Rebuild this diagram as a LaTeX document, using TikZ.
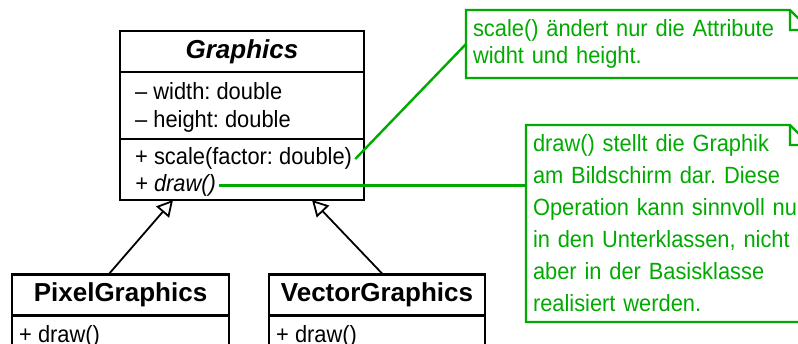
\documentclass[tikz,border=0pt]{standalone}
\usepackage{fontspec}
\setmainfont{Liberation Sans}[FakeStretch=0.93]
\newfontfamily\headfont{Liberation Sans}
\usetikzlibrary{positioning, arrows.meta}
\definecolor{notegreen}{RGB}{0,170,0}
\tikzstyle{classname} = [draw, line width=2.2pt, outer sep=0pt, minimum height=41pt, font=\headfont\fontsize{26}{30}\selectfont\bfseries]
\tikzstyle{compartment} = [draw, line width=2.2pt, outer sep=0pt]
\tikzstyle{member} = [anchor=base west, inner sep=3pt, text height=16pt, text depth=5pt, font=\fontsize{23.5}{29}\selectfont]
\tikzstyle{notebox} = [anchor=north west, outer sep=0pt, inner sep=7pt, align=left, text=notegreen, font=\fontsize{23.5}{27}\selectfont]
\tikzstyle{noteline} = [draw=notegreen, line width=2.4pt]
\tikzstyle{inherit} = [line width=1.8pt, -{Triangle[open, length=16pt, width=17pt]}]

\begin{document}
\frenchspacing
\begin{tikzpicture}[x=1pt, y=-1pt]
    \useasboundingbox (0,0) rectangle (798,343);

    % base class
    \node[classname, minimum width=244pt] (graphics) at (242,51.5) {\itshape Graphics};
    \node[compartment, minimum width=244pt, minimum height=67pt, below=0pt of graphics] (gattr) {};
    \node[compartment, minimum width=244pt, minimum height=61pt, below=0pt of gattr] (gops) {};
    \node[member] (width) at (132,99.5) {-- width: double};
    \node[member] (height) at (132,127.5) {-- height: double};
    \node[member] (scale) at (132,164.5) {+ scale(factor: double)};
    \node[member] (draw) at (132,191) {\itshape + draw()};

    % subclasses
    \node[classname, minimum width=217pt] (pixel) at (120.5,295) {PixelGraphics};
    \node[compartment, minimum width=217pt, minimum height=40pt, below=0pt of pixel] (pops) {};
    \node[member] (pdraw) at (16,342) {+ draw()};
    \node[classname, minimum width=216pt] (vector) at (377,295) {VectorGraphics};
    \node[compartment, minimum width=216pt, minimum height=40pt, below=0pt of vector] (vops) {};
    \node[member] (vdraw) at (273,342) {+ draw()};

    \draw[inherit] ([xshift=-12pt]pixel.north) -- ([xshift=-69pt]gops.south);
    \draw[inherit] ([xshift=6pt]vector.north) -- ([xshift=70pt]gops.south);

    % notes
    \node[notebox, text width=330pt, minimum height=68pt] (note1) at (466,10)
        {scale() ändert nur die Attribute\\widht und height.};
    \node[notebox, text width=270pt, minimum height=197pt, font=\fontsize{23.5}{32}\selectfont] (note2) at (526,125)
        {draw() stellt die Graphik\\am Bildschirm dar. Diese\\\mbox{Operation kann sinnvoll nur}\\in den Unterklassen, nicht\\aber in der Basisklasse\\realisiert werden.};
    \foreach \n in {note1, note2}
        \draw[noteline] (\n.south west) -- (\n.north west) -- ([xshift=-20pt]\n.north east)
            -- ([yshift=-20pt]\n.north east) -- (\n.south east) -- cycle
            ([xshift=-20pt]\n.north east) |- ([yshift=-20pt]\n.north east);

    \draw[noteline] (scale.east) -- (note1.west);
    \draw[noteline] (draw.east) -- (draw.east -| note2.west);
\end{tikzpicture}
\end{document}
